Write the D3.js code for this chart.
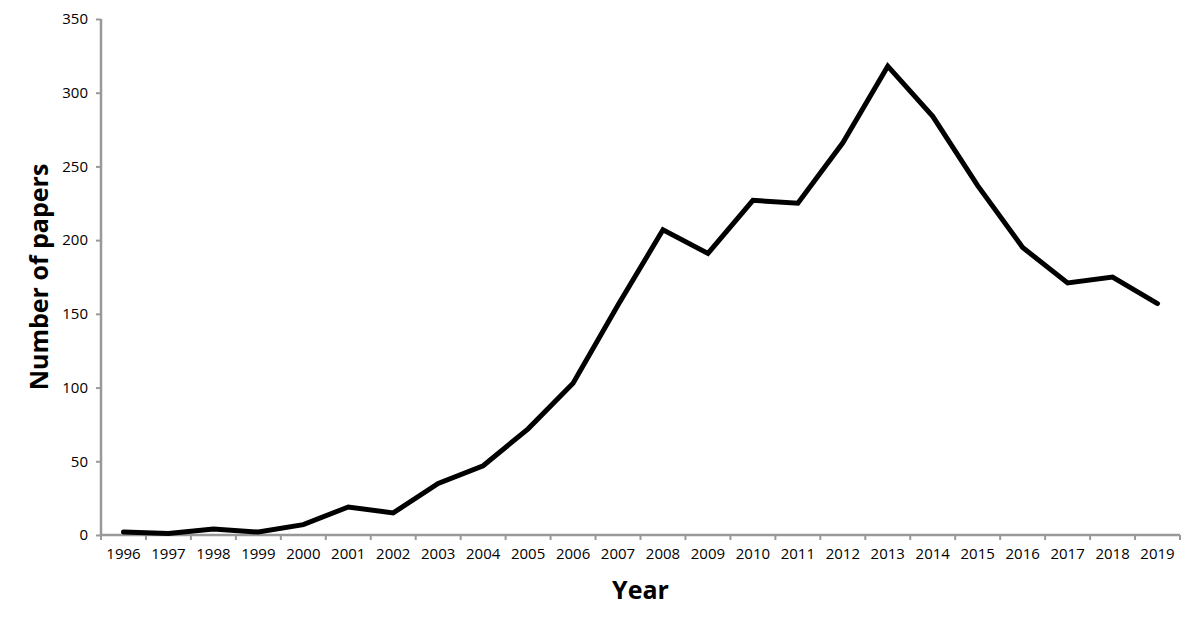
<!DOCTYPE html>
<html>
<head>
<meta charset="utf-8">
<script src="https://cdn.jsdelivr.net/npm/d3@7"></script>
<style>
  body { margin: 0; background: #fff; }
  svg { display: block; }
  .tick text { font-family: "Open Sans", sans-serif; font-size: 15px; fill: #000; }
  .axis-title { font-family: "Open Sans", sans-serif; font-weight: bold; font-size: 25px; fill: #000; }
</style>
</head>
<body>
<script>
// data
let years = ['1996', '1997', '1998', '1999', '2000', '2001', '2002', '2003', '2004', '2005', '2006', '2007',
             '2008', '2009', '2010', '2011', '2012', '2013', '2014', '2015', '2016', '2017', '2018', '2019'];
let papers = [2, 1, 4, 2, 7, 19, 15, 35, 47, 72, 103, 156, 207, 191, 227, 225, 266, 318, 284, 237, 195, 171, 175, 157];
let yTicks = [0, 50, 100, 150, 200, 250, 300, 350];

//chart constants
let totalWidth = 1200;
let totalHeight = 626;
let margins = {top: 19, right: 20, bottom: 91, left: 101};
let innerWidth = 1180 - margins.left;
let innerHeight = totalHeight - margins.top - margins.bottom;

let rows = years.map((y, i) => ({year: y, value: papers[i]}));

let svg = d3.select('body').append('svg')
    .attr('width', totalWidth)
    .attr('height', totalHeight);

let g = svg.append('g')
    .attr('transform', `translate(${margins.left}, ${margins.top})`);

let xScale = d3.scaleBand()
    .domain(years)
    .range([0, innerWidth]);

let yScale = d3.scaleLinear()
    .domain([0, 350])
    .range([innerHeight, 0]);

//y axis
let yAxis = g.append('g')
    .call(d3.axisLeft(yScale).tickValues(yTicks).tickSize(5).tickPadding(8));

//x axis - ticks sit on the category boundaries like a spreadsheet chart
let xAxis = g.append('g')
    .attr('transform', `translate(0, ${innerHeight})`)
    .call(d3.axisBottom(xScale).tickSize(0).tickPadding(13));

let boundaries = d3.range(years.length + 1).map(i => i * xScale.step());
xAxis.selectAll('.bound')
    .data(boundaries)
    .enter()
    .append('line')
    .attr('class', 'bound')
    .attr('x1', d => d)
    .attr('x2', d => d)
    .attr('y1', 0)
    .attr('y2', 5);

[yAxis, xAxis].forEach(ax => {
    ax.select('.domain').attr('stroke', '#999').attr('stroke-width', 2.5);
    ax.selectAll('.tick line, .bound').attr('stroke', '#999').attr('stroke-width', 2);
});
yAxis.select('.domain').attr('d', `M0,0V${innerHeight}`);
xAxis.select('.domain').attr('d', `M0,0H${innerWidth}`);

//the line
let line = d3.line()
    .x(d => xScale(d.year) + xScale.bandwidth() / 2)
    .y(d => yScale(d.value));

g.append('path')
    .datum(rows)
    .attr('fill', 'none')
    .attr('stroke', '#000')
    .attr('stroke-width', 5)
    .attr('stroke-linejoin', 'miter')
    .attr('stroke-linecap', 'round')
    .attr('d', line);

//axis titles
svg.append('text')
    .attr('class', 'axis-title')
    .attr('text-anchor', 'middle')
    .attr('x', margins.left + innerWidth / 2)
    .attr('y', 599)
    .text('Year');

svg.append('text')
    .attr('class', 'axis-title')
    .attr('text-anchor', 'middle')
    .attr('transform', `translate(48, ${margins.top + innerHeight / 2}) rotate(-90)`)
    .text('Number of papers');

//centre the middle-anchored labels by hand so they are start-anchored
svg.selectAll('text').each(function() {
    let t = d3.select(this);
    if (getComputedStyle(this).textAnchor !== 'middle') return;
    let w = this.getComputedTextLength();
    let x = +(t.attr('x') || 0);
    t.attr('text-anchor', 'start').attr('x', x - w / 2);
});
</script>
</body>
</html>
